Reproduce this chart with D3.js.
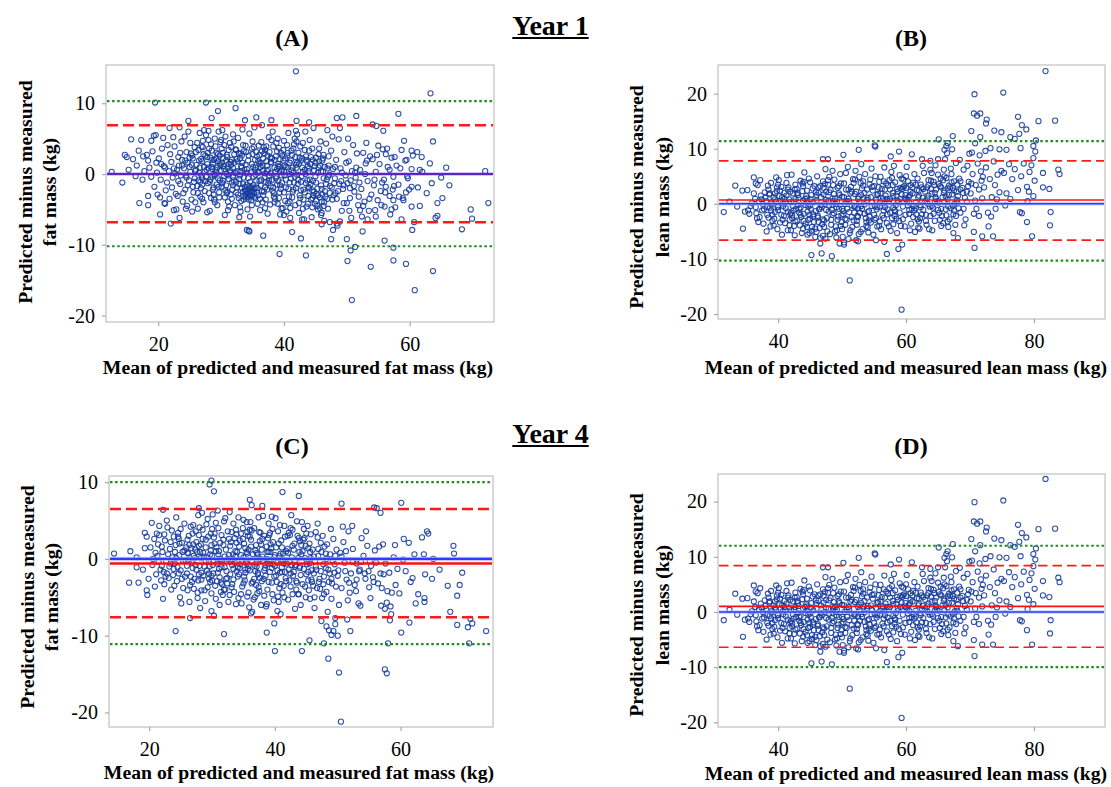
<!DOCTYPE html>
<html>
<head>
<meta charset="utf-8">
<script src="https://cdn.jsdelivr.net/npm/d3@7"></script>
<style>
body { margin: 0; background: #fff; }
svg text { font-family: "Liberation Serif", "Times New Roman", serif; fill: #000; }
</style>
</head>
<body>
<svg id="chart" width="1111" height="787"></svg>
<script>
// ---- tick labels ----
var fatTicksX = [20, 40, 60];
var fatTicksY = [10, 0, -10, -20];
var leanTicksX = [40, 60, 80];
var leanTicksY = [20, 10, 0, -10, -20];

// ---- agreement lines: [lower outer, lower LoA, bias, upper LoA, upper outer] ----
var limitsA = [-10.2, -6.8, 0.0, 6.9, 10.3];
var limitsB = [-10.3, -6.6, 0.7, 7.8, 11.4];
var limitsC = [-11.1, -7.6, -0.6, 6.5, 10.0];
var limitsD = [-10.0, -6.4, 1.0, 8.4, 12.0];

// ---- fat mass, year 1 (x = mean, y = difference) ----
var fatY1 = [
[41.9,14.5],[63.3,11.4],[19.5,10.1],[27.6,10.1],[29.5,8.9],[32.3,9.3],[24.8,7.5],[28.5,7.9],[33.8,7.6],[35.6,8.0],[42.0,7.5],[38.0,7.6],[44.0,7.3],[48.4,7.9],[49.3,8.0],[51.5,8.2],[54.1,7.0],[54.7,6.8],[58.2,8.5],[55.8,6.1],[21.8,6.5],
[12.6,0.3],[14.3,-1.2],[14.7,2.7],[15.0,2.4],[15.7,4.9],[15.3,0.6],[16.0,2.1],[16.4,-0.3],[16.9,3.3],[17.3,4.8],[17.0,-4.1],[17.6,2.5],[17.8,0.4],[18.4,-4.4],[18.4,-3.1],[18.9,4.7],[19.6,5.5],[17.5,-0.8],[16.6,1.2],[20.3,-5.7],[21.1,-4.2],[22.0,-7.0],[22.5,-5.1],[23.4,-6.2],[24.4,-4.9],
[65.8,0.9],[66.3,-1.6],[65.2,-3.4],[64.4,-4.1],[64.4,-5.9],[64.1,-6.2],[68.3,-7.8],[69.7,-5.0],[69.9,-6.3],[72.0,0.4],[72.5,-4.1],[63.5,-1.3],[63.2,1.5],[65.0,-0.5],[63.7,4.6],[60.5,2.6],[60.3,3.3],[61.2,3.1],[61.9,2.4],[59.1,4.7],[59.5,2.0],[60.3,0.7],[61.6,0.6],[62.0,0.3],[59.7,-0.6],[60.3,-1.8],[61.3,-1.9],[59.4,-2.6],[58.3,-3.2],[59.0,-3.7],[60.3,-4.6],[61.6,-4.5],[62.7,-2.7],[60.4,-7.9],[60.7,-6.8],[58.7,-6.4],[57.4,-3.7],[57.1,-5.0],[57.5,-1.7],[56.0,-4.6],[56.1,-2.6],[56.8,0.6],[57.6,2.4],[56.2,2.8],
[50.0,-9.2],[50.1,-12.3],[50.6,-10.8],[51.3,-10.3],[50.8,-17.8],[53.8,-13.1],[56.0,-9.4],[57.4,-12.2],[59.4,-12.7],[60.8,-16.4],[63.7,-13.7],[57.4,-10.4],[39.3,-11.3],[43.5,-11.5],[42.7,-9.1],[41.3,-8.2],[36.7,-8.7],[34.4,-8.0],[34.5,-8.1],[39.6,-4.9],[40.0,-5.8],[42.9,-6.4],[46.0,-5.5],[46.0,-7.1],[47.5,-9.2],[47.8,-7.9],[48.4,-7.0],[48.9,-6.7],[50.4,-5.2],[52.1,-5.1],[52.5,-8.1],[53.3,-6.4],[54.6,-6.0],
[18.2,2.7],[18.6,0.9],[19.1,3.2],[19.4,-1.8],[18.9,-0.4],[19.7,1.6],[19.9,-2.9],[18.4,1.9],[19.3,5.4],[19.8,0.2],
[20.1,2.2],[20.4,-0.8],[20.6,3.6],[20.9,1.1],[21.2,-2.3],[21.5,4.1],[21.0,-4.1],[20.3,-3.3],[21.7,0.4],[21.9,2.8],[20.8,5.1],[21.4,-1.2],[21.8,-3.5],[20.5,1.4],[21.1,0.9],
[22.1,1.7],[22.3,-0.5],[22.6,3.9],[22.8,-2.8],[23.0,0.6],[23.2,2.4],[23.5,-1.4],[23.7,4.6],[23.9,-3.9],[22.4,5.2],[22.9,-5.0],[23.3,1.2],[23.6,-0.2],[22.2,-1.9],[23.8,2.0],[23.1,-3.1],[22.7,0.1],[23.4,6.6],
[24.1,0.8],[24.3,-2.2],[24.5,3.1],[24.7,1.6],[24.9,-0.9],[25.1,4.4],[25.3,-3.6],[25.5,2.2],[25.7,-1.1],[25.9,0.4],[24.2,5.3],[24.6,-4.5],[25.0,1.0],[25.4,-5.3],[25.8,3.8],[24.4,-0.2],[25.2,2.9],[25.6,-2.6],[24.8,6.0],[25.9,-4.0],
[26.1,1.3],[26.2,-1.7],[26.4,3.4],[26.5,0.2],[26.7,-3.2],[26.8,2.1],[27.0,-0.6],[27.1,4.7],[27.3,1.0],[27.4,-2.4],[27.6,5.5],[27.7,0.6],[27.9,-1.3],[26.3,-4.9],[26.9,3.9],[27.2,-4.0],[27.5,2.6],[27.8,-5.4],[26.6,5.8],[27.0,1.8],[26.4,-0.9],[27.9,3.0],[27.3,6.2],[26.8,-2.0],
[28.0,0.9],[28.1,-2.7],[28.3,2.3],[28.4,4.2],[28.6,-0.4],[28.7,1.5],[28.9,-3.6],[29.0,5.0],[29.2,0.3],[29.3,-1.5],[29.5,2.8],[29.6,6.0],[29.8,-0.9],[29.9,1.2],[28.2,-5.2],[28.5,3.3],[28.8,-1.9],[29.1,3.9],[29.4,-4.4],[29.7,-2.6],[28.0,6.1],[28.6,0.7],[29.0,-0.2],[29.5,1.8],[29.9,4.5],[28.9,2.0],
[30.0,0.5],[30.1,-1.8],[30.3,3.0],[30.4,1.1],[30.6,-3.3],[30.7,5.3],[30.9,0.0],[31.0,2.4],[31.2,-0.7],[31.3,-4.6],[31.5,1.7],[31.6,3.8],[31.8,-2.2],[31.9,0.8],[30.2,6.2],[30.5,-0.3],[30.8,1.9],[31.1,-5.1],[31.4,4.4],[31.7,-1.2],[30.9,-2.7],[31.5,0.2],[30.3,2.2],[31.9,5.6],[30.6,-5.8],[31.2,1.4],
[32.0,-0.9],[32.1,1.6],[32.3,3.5],[32.4,-2.6],[32.6,0.4],[32.7,5.1],[32.9,-1.4],[33.0,2.2],[33.2,-3.8],[33.3,0.9],[33.5,4.1],[33.6,-0.5],[33.8,-2.3],[33.9,1.3],[32.2,-4.4],[32.8,2.9],[33.1,-5.3],[33.4,6.3],[33.7,-3.1],[32.5,-1.9],[33.9,-2.8],[32.3,0.1],[33.0,-0.2],[33.6,3.2],[32.9,-6.1],[33.3,-2.0],
[34.0,-2.4],[34.1,0.7],[34.3,-3.3],[34.4,2.6],[34.6,-1.1],[34.7,-2.9],[34.9,1.4],[35.0,4.6],[35.2,-0.4],[35.3,-2.1],[35.5,0.9],[35.6,3.1],[35.8,-4.2],[35.9,1.8],[34.2,-5.0],[34.5,5.7],[34.8,-3.7],[35.1,-1.6],[35.4,2.0],[35.7,-2.6],[34.3,-0.6],[35.0,-3.0],[35.6,-0.9],[34.9,3.6],[35.3,6.6],[34.1,-7.9],[34.6,-6.0],[35.8,0.3],
[36.0,0.2],[36.1,2.7],[36.3,-1.6],[36.4,4.5],[36.6,1.2],[36.7,-3.0],[36.9,-0.5],[37.0,3.4],[37.2,1.8],[37.3,-2.2],[37.5,0.6],[37.6,5.2],[37.8,-4.3],[37.9,2.3],[36.2,-5.1],[36.5,6.9],[36.8,3.8],[37.1,-1.1],[37.4,-5.6],[37.7,-0.3],[36.3,1.0],[37.0,0.1],[36.8,-2.5],[37.9,-1.7],
[38.0,1.5],[38.1,-0.8],[38.3,3.9],[38.4,-2.7],[38.6,0.3],[38.7,2.5],[38.9,-1.5],[39.0,5.0],[39.2,-3.4],[39.3,1.0],[39.5,3.0],[39.6,-0.2],[39.8,-4.8],[39.9,1.9],[38.2,6.0],[38.5,-4.0],[38.8,4.4],[39.1,-1.0],[39.4,-5.7],[39.7,2.6],[38.9,0.7],[39.5,-2.1],
[40.0,0.4],[40.2,2.2],[40.3,-1.9],[40.5,4.1],[40.6,0.9],[40.8,-3.2],[40.9,1.6],[41.1,-0.6],[41.2,3.3],[41.4,-2.5],[41.5,0.2],[41.7,5.0],[41.8,-4.4],[41.9,1.3],[40.4,-5.3],[40.7,5.8],[41.0,-6.2],[41.3,2.7],[41.6,-1.2],[40.1,-0.2],[41.9,6.1],[40.9,-3.9],
[42.0,0.9],[42.2,-1.4],[42.3,3.0],[42.5,-3.0],[42.7,1.9],[42.8,-0.3],[43.0,4.4],[43.1,-2.2],[43.3,0.6],[43.5,2.5],[43.6,-4.6],[43.8,1.1],[43.9,-1.8],[42.1,5.6],[42.4,-5.5],[42.9,2.2],[43.2,-6.4],[43.4,6.0],[43.7,-0.9],[42.6,3.9],
[44.0,-2.0],[44.2,1.4],[44.3,-3.6],[44.5,3.6],[44.6,-1.0],[44.8,0.5],[44.9,-4.2],[45.1,2.3],[45.2,-2.8],[45.4,-5.0],[45.5,0.9],[45.7,-3.3],[45.8,4.6],[45.9,-1.6],[44.1,4.8],[44.4,-6.1],[44.7,6.5],[45.0,-0.3],[45.3,-4.5],[45.6,1.8],[45.9,-5.8],[44.5,-2.3],
[46.0,-3.9],[46.2,0.3],[46.3,2.7],[46.5,-2.4],[46.7,4.3],[46.8,-0.8],[47.0,-4.9],[47.1,1.2],[47.3,-6.8],[47.5,3.3],[47.6,-1.9],[47.8,0.7],[47.9,-3.0],[46.4,-6.6],[46.9,6.2],[47.2,-0.1],[47.7,5.3],[46.1,1.9],
[48.1,-0.6],[48.3,2.0],[48.4,-3.5],[48.7,4.9],[48.8,-1.4],[49.0,0.8],[49.2,-5.2],[49.4,-2.1],[49.6,3.1],[49.8,-0.2],[48.5,-7.3],[48.9,6.5],[49.5,-4.1],[49.9,1.6],[48.2,-2.7],[49.1,-1.0],
[50.1,-1.3],[50.3,1.8],[50.5,-3.4],[50.8,0.4],[51.0,4.1],[51.2,-2.5],[51.4,-0.5],[51.6,2.9],[51.8,-4.4],[50.2,5.0],[50.7,-6.2],[51.1,-1.7],[51.5,0.9],[51.9,-3.2],[50.6,-0.9],
[52.1,0.6],[52.3,-2.1],[52.6,3.0],[52.8,-3.9],[53.0,1.5],[53.3,-1.0],[53.5,-5.2],[53.7,2.5],[53.9,-2.9],[52.4,-6.0],[53.1,4.4],[52.9,0.0],[53.6,-3.5],
[54.1,2.1],[54.3,-1.6],[54.6,0.3],[54.9,-3.7],[55.2,1.4],[55.4,-2.4],[55.7,3.5],[55.9,-0.8],[54.5,-5.1],[55.0,4.0],[55.5,-4.4],[54.8,2.7],
[56.2,-1.8],[56.5,1.0],[56.8,-3.1],[57.1,2.3],[57.4,-0.4],[57.7,-4.7],[56.4,3.6],[57.9,1.2],[56.9,-5.7],[57.3,-2.2],
[58.2,-1.5],[58.5,0.8],[58.9,-3.4],[59.3,1.9],[59.6,-0.3],[58.7,3.4],[59.9,-2.2]
];
// denser core of panel A
var fatY1Core = [
[24.3,1.9],[24.7,-1.6],[25.1,0.3],[25.4,2.6],[25.8,-0.6],[26.0,3.1],[26.3,-2.7],[26.6,0.9],[26.9,-0.2],[27.2,2.8],[27.5,-1.0],[27.8,1.4],[28.1,3.6],[28.3,-0.8],[28.6,2.0],[28.8,-2.9],[29.1,0.6],[29.3,3.0],[29.6,-1.8],[29.8,2.6],[30.1,1.6],[30.3,-0.9],[30.5,4.1],[30.8,-1.6],[31.0,0.9],[31.2,3.4],[31.5,-2.9],[31.7,2.0],[31.9,-0.4],[32.1,2.8],[32.4,-1.1],[32.6,1.8],[32.8,-3.4],[33.1,0.4],[33.3,2.6],[33.5,-1.4],[33.7,0.6],[33.9,4.0],[34.1,-1.5],[34.2,-2.8],[34.4,-3.6],[34.6,-2.0],[34.8,0.2],[35.0,-2.5],[35.1,1.0],[35.3,-3.2],[35.5,-1.9],[35.7,2.5],[35.9,-3.0],[36.1,-1.0],[36.3,1.6],[36.5,-2.4],[36.7,0.5],[36.9,2.9],[37.1,-3.6],[37.3,1.2],[37.5,-1.3],[37.7,3.1],[37.9,0.1],[38.1,2.2],[38.3,-1.9],[38.5,0.9],[38.7,-0.6],[38.9,3.2],[39.1,1.4],[39.3,-2.6],[39.5,0.4],[39.7,-1.2],[39.9,3.4],[40.1,1.2],[40.3,-0.8],[40.5,2.6],[40.7,-2.1],[40.9,0.0],[41.1,1.9],[41.3,-3.3],[41.5,3.6],[41.7,-0.4],[41.9,-2.0],[42.1,1.6],[42.3,-0.8],[42.5,2.3],[42.7,-2.3],[42.9,0.9],[43.1,-3.6],[43.3,3.4],[43.5,-1.3],[43.7,1.7],[43.9,-3.1],[44.1,-0.8],[44.3,2.4],[44.5,-4.7],[44.7,-3.0],[44.9,1.1],[45.1,-3.8],[45.3,-2.1],[45.5,2.8],[45.7,-4.8],[45.9,0.4],[46.1,-2.9],[46.3,-4.5],[46.5,1.0],[46.7,-1.4],[46.9,-3.5],[47.1,2.5],[47.3,-2.7],[26.2,4.4],[27.0,-3.5],[28.0,4.8],[29.0,-4.0],[30.0,4.8],[31.1,-3.9],[32.0,4.6],[33.0,-4.7],[34.0,3.1],[35.2,3.8],[36.0,4.0],[37.0,-4.8],[38.0,4.8],[39.0,-4.2],[40.0,4.7],[41.0,-4.8],[42.0,4.6],[43.0,-4.9],[44.0,3.3],[28.4,-3.4],[30.7,-2.3],[32.7,-2.9],[34.9,-4.4],[36.6,-4.0],[38.6,-3.5],[40.6,-4.1],[42.4,-4.1],[27.6,-0.4],[29.4,0.9],[31.4,0.5],[33.4,1.6],[35.4,0.6],[37.4,2.6],[39.4,2.1],[41.4,0.9],[43.4,0.0],[45.4,0.2],
[22.5,0.8],[23.2,-1.0],[23.8,1.2],[24.5,-0.5],[25.0,2.3],[25.5,-1.8],[26.0,0.6],[26.5,1.9],[27.0,-1.5],[27.4,0.3],[27.8,2.4],[28.2,-1.1],[28.5,1.0],[28.9,0.0],[29.2,2.2],[29.5,-0.6],[29.8,1.4],[30.2,-1.3],[30.5,0.7],[30.9,2.7],[31.2,-0.2],[31.6,1.3],[31.9,-1.6],[32.2,0.3],[32.5,2.1],[32.9,-0.7],[33.2,1.1],[33.5,-2.5],[33.8,-1.8],[34.1,0.2],[34.4,-2.2],[34.6,-3.1],[34.9,-1.9],[35.2,-2.7],[35.5,-0.1],[35.8,-2.0],[36.1,1.4],[36.4,-0.8],[36.7,2.2],[37.0,-1.9],[37.3,0.4],[37.6,-0.9],[37.9,1.7],[38.2,-2.4],[38.5,2.0],[38.8,-0.3],[39.1,1.1],[39.4,-1.6],[39.7,0.6],[40.0,-2.6],[40.3,1.0],[40.6,3.0],[40.9,-1.2],[41.2,0.5],[41.5,-2.2],[41.8,2.4],[42.1,-0.1],[42.4,1.4],[42.7,-1.1],[43.0,0.3],[43.3,-2.6],[43.6,2.0],[43.9,0.4],[44.2,-1.5],[44.5,-3.4],[44.8,-2.5],[45.1,-1.2],[45.4,-3.0],[45.7,1.2],[46.0,-2.1],[46.3,-0.6],[46.6,-3.2],[46.9,0.8],[47.3,-1.7],[47.7,-3.6],[48.1,1.0],[48.6,-2.4],[49.2,0.2],[27.1,3.8],[28.7,-2.2],[30.1,3.6],[31.7,-3.5],[32.4,3.4],[33.1,2.9],[34.3,1.9],[35.0,2.8],[36.2,-3.5],[37.2,3.9],[38.4,-3.2],[39.2,3.7],[40.2,-3.8],[41.6,4.2],[42.6,-3.4],[43.8,-4.2],[44.6,2.0],[45.6,3.6],[46.4,-4.0],[29.7,-3.3],[31.0,-2.5],[33.6,-3.6],[36.5,3.2],[26.7,-1.1],[25.3,1.3],[24.0,-2.7],[23.5,3.0],[44.0,0.8],[45.0,1.6],[46.2,2.2],[47.0,-0.4],[48.0,-1.3],[49.5,-1.6],[50.5,-2.0],[51.3,0.2],[52.0,-1.2],[53.2,1.9],[54.4,-0.8],[55.6,-1.2],[50.0,-4.1],[52.6,-4.5],[34.7,-2.5],[35.4,-3.4],[33.9,-3.3],[34.5,-1.7]
];

// ---- fat mass, year 4 ----
var fatY4 = [
[29.9,10.2],[29.6,9.7],[30.3,8.8],[41.2,8.7],[43.8,8.2],[50.6,7.2],[60.1,7.3],[55.8,6.7],[56.2,6.6],[56.8,6.0],[36.0,7.7],[36.3,7.0],[38.0,6.9],[22.2,6.4],[27.9,6.6],
[14.4,0.7],[17.0,1.0],[18.0,0.2],[16.8,-3.1],[18.3,-3.1],[18.0,-1.1],[19.0,-1.4],[19.6,-4.1],[19.7,-4.7],[19.3,3.4],[19.6,2.9],[19.3,1.4],[20.4,4.7],[21.6,4.3],[19.9,-2.6],
[24.2,-9.4],[31.9,-9.8],[26.5,-7.7],[29.9,-6.8],[30.3,-7.4],[38.7,-9.6],[39.9,-8.4],[40.0,-12.0],[44.3,-12.0],[40.9,-7.2],[45.5,-10.6],[47.8,-11.0],[48.5,-13.0],[50.2,-14.8],[50.5,-21.2],[57.5,-14.4],[57.8,-14.9],[58.0,-11.0],[48.2,-8.8],[48.6,-9.3],[49.0,-9.9],[49.3,-9.4],[50.0,-10.0],[52.0,-9.4],[60.1,-9.6],[47.4,-8.1],[49.6,-8.5],[51.5,-7.9],
[69.0,-8.6],[70.7,-8.9],[71.4,-8.4],[71.1,-7.8],[70.9,-11.0],[73.6,-9.4],[67.9,-6.9],[69.0,-4.8],[69.4,-3.4],[69.8,-1.8],[68.4,1.7],[68.5,0.7],[67.5,-3.5],[66.2,-1.4],[65.2,0.0],[64.2,3.6],[64.4,3.3],[63.4,2.8],[63.7,0.6],[63.9,-2.0],[65.0,-2.6],[63.8,-5.1],[63.8,-5.6],[62.8,-4.6],[62.2,0.6],[61.9,-2.5],[61.4,-8.3],[60.5,2.6],[61.3,2.1],[60.8,-1.6],[61.6,-3.0],[62.4,-5.8],[60.4,-0.1],
[20.2,1.5],[20.5,-0.8],[20.8,2.6],[21.1,-2.0],[21.3,0.4],[21.6,3.1],[21.8,-1.4],[20.9,-3.6],[21.4,1.9],[20.6,0.0],[21.9,-2.8],[21.2,3.3],
[22.1,0.9],[22.3,-1.7],[22.5,2.4],[22.7,-0.3],[22.9,4.1],[23.1,-2.5],[23.3,1.3],[23.5,-4.0],[23.7,0.2],[23.9,2.9],[22.4,-3.3],[22.8,5.0],[23.2,-1.0],[23.6,3.7],[22.2,-5.2],[23.8,-2.1],
[24.0,-0.6],[24.2,1.8],[24.4,-2.9],[24.6,3.4],[24.8,0.5],[25.0,-1.5],[25.2,2.1],[25.4,-3.8],[25.6,4.6],[25.8,-0.2],[24.3,5.4],[24.9,-5.0],[25.3,0.9],[25.7,-2.3],[24.5,-1.1],[25.9,1.5],[25.1,-5.8],[24.7,2.6],
[26.0,-1.9],[26.2,0.7],[26.3,3.0],[26.5,-3.4],[26.7,1.4],[26.8,-0.5],[27.0,4.4],[27.2,-2.6],[27.3,0.1],[27.5,2.2],[27.7,-4.4],[27.8,5.7],[26.4,-5.6],[26.9,-1.2],[27.4,3.6],[27.9,-2.0],[26.1,2.5],[27.1,-3.9],[27.6,0.9],[26.6,4.2],[27.9,1.7],[26.3,-0.2],
[28.0,-0.9],[28.2,1.9],[28.3,-2.7],[28.5,3.8],[28.7,0.3],[28.8,-4.1],[29.0,2.5],[29.2,-1.5],[29.3,5.2],[29.5,-0.4],[29.7,-3.0],[29.8,1.1],[28.4,6.0],[28.9,-5.5],[29.4,2.9],[29.9,-2.2],[28.1,-6.4],[28.6,0.8],[29.1,4.5],[29.6,-1.0],[28.3,-1.8],[29.8,3.3],
[30.0,0.4],[30.2,-1.9],[30.3,2.8],[30.5,-3.5],[30.7,1.5],[30.8,-0.6],[31.0,4.0],[31.2,-2.4],[31.3,0.0],[31.5,3.1],[31.7,-4.7],[31.8,1.8],[30.1,5.8],[30.6,-5.2],[31.1,-1.3],[31.6,-0.2],[31.9,4.9],[30.4,2.0],[31.4,-3.1],[30.9,6.3],[31.2,-6.0],[30.0,-2.8],
[32.0,-1.1],[32.2,1.2],[32.4,-3.2],[32.5,3.6],[32.7,0.5],[32.9,-2.0],[33.0,2.2],[33.2,-0.8],[33.4,4.6],[33.5,-4.3],[33.7,1.0],[33.9,-1.6],[32.1,5.3],[32.6,-5.6],[33.1,-3.7],[33.6,2.7],[32.3,-0.3],[33.3,0.6],[33.8,-5.9],[32.8,6.1],[33.9,3.2],[32.4,-2.5],
[34.0,0.9],[34.1,-2.3],[34.3,1.6],[34.5,-0.7],[34.6,3.3],[34.8,-3.6],[35.0,0.2],[35.1,2.0],[35.3,-1.8],[35.5,4.8],[35.6,-4.9],[35.8,1.2],[34.2,5.4],[34.7,-5.8],[35.2,-2.8],[35.7,3.0],[34.4,-1.2],[35.4,-0.4],[35.9,-6.3],[34.9,2.6],[35.0,5.1],[35.6,0.7],
[36.0,-1.5],[36.2,2.5],[36.3,-3.2],[36.5,0.6],[36.7,4.0],[36.8,-0.9],[37.0,1.8],[37.2,-4.5],[37.3,-2.0],[37.5,3.5],[37.7,0.0],[37.8,-6.0],[36.1,4.8],[36.6,-5.3],[37.1,-1.0],[37.6,2.3],[36.4,-6.9],[37.4,5.4],[37.9,-2.9],[36.9,1.1],[36.2,-7.1],[37.0,-3.4],
[38.0,0.3],[38.2,-2.6],[38.3,3.0],[38.5,-0.8],[38.7,1.6],[38.8,-4.0],[39.0,4.6],[39.2,-1.7],[39.3,0.9],[39.5,-3.1],[39.7,2.2],[39.8,-5.4],[38.1,5.6],[38.6,-6.2],[39.1,-0.1],[39.6,3.9],[38.4,-1.2],[39.4,1.4],[39.9,-2.3],[38.9,2.7],[39.5,5.5],[38.7,-5.9],
[40.0,-0.9],[40.2,1.5],[40.3,-3.0],[40.5,3.6],[40.7,0.4],[40.8,-1.8],[41.0,2.4],[41.2,-4.4],[41.3,-0.2],[41.5,4.3],[41.7,-2.5],[41.8,1.0],[40.1,5.3],[40.6,-5.6],[41.1,-1.1],[41.6,2.9],[40.4,-6.8],[41.4,-3.5],[41.9,-0.6],[40.9,0.7],
[42.0,1.3],[42.2,-1.4],[42.4,3.1],[42.5,-3.6],[42.7,0.2],[42.9,-2.2],[43.1,2.0],[43.3,-0.8],[43.5,4.9],[43.7,-4.6],[43.9,0.9],[42.1,-5.3],[42.6,5.7],[43.2,-6.5],[43.8,2.7],[42.3,-0.4],[43.4,-2.9],[42.8,3.8],
[44.0,-1.0],[44.2,1.8],[44.4,-3.3],[44.6,3.9],[44.8,0.1],[45.0,-2.0],[45.2,4.3],[45.4,-4.1],[45.6,0.9],[45.8,-1.5],[44.1,-6.0],[44.5,2.5],[44.9,-5.0],[45.3,1.4],[45.7,3.2],[45.9,-3.0],[44.3,4.8],[45.5,-0.6],
[46.0,1.2],[46.2,-1.9],[46.5,3.5],[46.7,-3.8],[46.9,0.4],[47.1,-2.6],[47.3,2.1],[47.5,-5.1],[47.7,-0.7],[47.9,1.6],[46.3,-6.4],[46.8,4.6],[47.2,-3.9],[47.8,-4.6],[46.4,-0.3],
[48.1,-1.2],[48.3,1.9],[48.6,-3.0],[48.8,0.6],[49.0,-5.2],[49.3,2.6],[49.5,-1.8],[49.7,-3.6],[48.4,-6.9],[48.9,3.9],[49.2,-0.2],[49.8,1.2],[48.2,-4.3],[49.6,-7.7],
[50.1,-1.5],[50.4,0.8],[50.6,-3.8],[50.9,2.2],[51.1,-0.5],[51.4,-2.7],[51.7,3.6],[51.9,-4.4],[50.2,-6.0],[50.8,4.2],[51.3,1.0],[51.6,-5.4],
[52.1,-1.9],[52.4,1.3],[52.7,-3.4],[53.0,-0.6],[53.3,-5.8],[53.5,-1.4],[53.8,2.7],[52.9,-4.2],[53.6,-6.1],[52.3,4.3],[53.4,-1.6],
[54.1,0.4],[54.4,-2.6],[54.7,1.7],[55.0,-3.7],[55.3,-0.9],[55.6,-2.4],[55.9,1.1],[54.5,3.6],[55.2,-5.1],[54.9,-1.6],[55.7,-3.0],
[56.1,-0.5],[56.4,-3.2],[56.8,-1.9],[57.0,-3.8],[57.3,-2.0],[57.6,-0.6],[57.9,-4.2],[56.6,1.6],[57.5,-6.5],[57.8,-5.7],[56.9,-6.1],[57.2,1.9],
[58.2,-1.8],[58.4,-6.2],[58.6,-4.4],[58.9,0.2],[59.2,-3.4],[59.5,-1.3],[59.8,-4.5],[58.5,-7.2],[58.3,-8.0],[59.1,1.8]
];
// denser core of panel C
var fatY4Core = [
[21.5,-0.4],[22.0,1.6],[22.6,-2.3],[23.0,0.6],[23.4,2.2],[23.9,-1.3],[24.3,0.1],[24.8,2.0],[25.2,-2.6],[25.6,1.1],[26.0,-0.9],[26.4,1.8],[26.8,-3.0],[27.1,0.4],[27.5,-1.4],[27.9,3.1],[28.2,0.1],[28.6,-2.2],[29.0,1.5],[29.3,-3.7],[29.7,0.6],[30.1,-0.8],[30.4,3.3],[30.8,-2.9],[31.1,1.0],[31.5,-1.1],[31.8,2.5],[32.2,-2.6],[32.5,0.0],[32.9,1.7],[33.2,-3.3],[33.6,-0.5],[33.9,2.1],[34.3,-2.0],[34.6,0.5],[35.0,-3.2],[35.3,1.4],[35.7,-1.3],[36.0,2.9],[36.4,-0.4],[36.7,-2.6],[37.1,0.8],[37.4,-3.7],[37.8,1.9],[38.1,-0.3],[38.5,-2.2],[38.8,0.9],[39.2,3.4],[39.5,-1.2],[39.9,0.2],[40.2,-2.2],[40.6,2.0],[40.9,-3.3],[41.3,0.7],[41.6,-1.7],[42.0,3.0],[42.3,-2.8],[42.7,-0.8],[43.0,1.2],[43.4,-4.0],[43.7,0.1],[44.1,-2.1],[44.4,1.0],[44.8,-3.6],[45.1,-0.4],[45.5,2.0],[45.8,-2.7],[46.2,0.3],[46.6,-1.4],[47.0,-3.0],[47.4,0.9],[47.8,-2.3],[48.2,0.0],[48.7,-1.9],[49.1,-3.2],[49.6,0.4],[22.4,3.2],[24.0,-3.5],[26.1,-4.1],[28.0,4.1],[29.9,-4.5],[31.9,-4.0],[33.8,3.8],[35.8,-4.4],[37.7,3.4],[39.6,-4.6],[41.5,-5.0],[43.6,3.0],[45.6,-5.2],[25.0,3.9],[27.7,-5.1],[30.6,4.7],[32.8,-4.7],[34.9,4.0],[36.8,-5.0],[38.9,-0.6],[40.8,4.4],[42.8,-4.6],[44.7,2.7],[46.8,2.8],[27.3,1.2],[29.5,-1.9],[31.3,-0.3],[33.4,-1.3],[35.5,-0.6],[37.3,-1.8],[39.3,-0.2],[41.1,-1.7],[43.2,-1.0],[45.3,-1.7],[34.2,-5.1],[36.3,3.7],[38.3,-4.8],[40.4,-0.5],[42.5,4.0],
[23.4,-0.6],[24.1,0.9],[24.7,-1.9],[25.4,-0.2],[26.1,0.8],[26.6,-2.3],[27.0,1.9],[27.4,-0.8],[27.8,-2.8],[28.1,0.9],[28.5,2.6],[28.8,-1.0],[29.2,0.2],[29.5,-2.6],[29.9,1.8],[30.2,-0.3],[30.6,1.0],[30.9,-1.8],[31.3,2.1],[31.6,-3.3],[32.0,0.3],[32.3,-1.6],[32.7,2.6],[33.0,-0.4],[33.4,-2.7],[33.7,0.3],[34.1,-1.1],[34.4,2.4],[34.8,-0.3],[35.1,-2.3],[35.5,0.9],[35.8,-0.9],[36.2,1.6],[36.5,-3.0],[36.9,-1.6],[37.2,0.6],[37.6,-2.5],[37.9,1.2],[38.3,-1.5],[38.6,0.0],[39.0,-3.0],[39.3,1.9],[39.7,-0.7],[40.0,0.5],[40.4,-1.5],[40.7,-3.8],[41.1,1.5],[41.4,-0.6],[41.8,-2.9],[42.1,0.8],[42.5,-1.9],[42.8,1.7],[43.2,-0.2],[43.5,-3.1],[43.9,-1.2],[44.2,0.6],[44.6,-1.3],[44.9,1.7],[45.3,-2.8],[45.7,0.1],[46.1,-3.5],[46.5,-1.0],[46.9,1.3],[47.3,-1.6],[47.7,-3.3],[48.1,0.7],[48.5,-1.4],[49.0,-2.6],[49.5,-0.7],[50.0,-2.2],[50.6,0.3],[51.2,-1.6],[51.8,-3.1],[52.4,-0.4],[53.0,-2.7],[53.7,-0.4],[54.3,-1.9],[55.1,-0.3],[26.9,3.3],[28.3,-4.1],[30.0,3.9],[31.4,-4.3],[33.1,3.5],[34.6,-4.6],[36.0,3.8],[37.5,-4.2],[39.1,3.1],[40.5,-4.9],[42.2,3.4],[43.8,-4.6],[45.0,3.3],[46.3,-5.0],[47.6,3.0],[35.6,3.5],[32.1,-4.0],[38.0,2.6],[44.0,2.3],[29.0,-0.3],[31.0,0.6],[33.3,-0.1],[35.3,-1.4],[37.0,-0.6],[39.0,0.9],[41.0,-0.3],[43.0,-1.7],[45.1,-0.7],[24.6,2.9],[22.8,-1.9],[21.0,0.8],[22.0,-0.9]
];

// ---- lean mass (same cloud appears in panels B and D) ----
var leanPts = [
[81.8,24.1],[70.7,19.9],[75.2,20.2],[70.6,16.4],[71.1,16.0],[71.6,16.4],[72.6,15.3],[72.5,14.6],[70.2,13.2],[73.8,13.3],[74.9,13.0],[77.5,15.8],[78.1,14.3],[78.8,13.5],[80.7,15.0],[83.3,15.1],[77.7,12.7],[76.3,12.1],[77.0,11.8],[65.1,11.7],[67.3,12.3],[71.6,12.1],[73.2,10.1],[74.6,9.9],[75.7,9.8],[77.9,10.1],[79.9,10.5],[80.3,11.5],[80.2,9.5],[79.9,8.3],[83.8,6.2],[84.0,5.4],[81.4,5.6],[81.4,3.0],[82.4,2.7],[82.6,-1.5],[82.5,-3.9],[79.7,-5.9],[78.9,-3.3],[78.1,-1.7],[79.0,0.5],[79.2,2.2],[79.9,1.4],[80.1,4.2],[73.6,-5.9],[72.9,-4.1],[71.9,-5.9],[70.7,-8.0],[70.6,-5.1],[68.1,-6.2],[67.4,-5.3],
[51.2,-13.9],[59.3,-19.2],[45.2,-9.3],[46.8,-9.0],[48.4,-9.5],[57.0,-9.1],[58.8,-8.2],[59.4,-7.4],[50.3,-7.4],[49.6,-7.2],[46.6,-7.2],[47.4,-6.3],[52.5,-6.8],[55.3,-6.6],[56.6,-6.9],
[52.6,9.8],[55.1,10.6],[55.2,10.4],[50.2,8.9],[47.0,8.1],[47.8,8.1],[58.9,9.5],[60.9,9.0],[57.6,8.6],[62.5,8.1],[63.8,7.8],[65.0,8.1],[66.0,9.8],[66.3,10.5],[66.5,11.0],
[31.5,-1.5],[32.4,0.4],[33.3,3.3],[34.4,2.4],[35.2,2.5],[34.5,-4.5],[33.6,-0.5],[34.8,-1.4],[35.3,-1.2],[35.5,-1.8],[36.2,4.8],[36.5,3.7],[35.9,0.1],
[36.2,1.9],[36.5,-0.6],[36.8,3.4],[37.1,-2.4],[37.4,0.8],[37.7,-3.6],[37.9,2.1],[36.6,-1.7],[37.2,4.3],[37.6,0.0],[36.9,-3.3],[37.8,-1.0],
[38.1,0.5],[38.3,-2.0],[38.5,2.6],[38.7,-0.7],[38.9,3.8],[39.1,-3.1],[39.3,1.2],[39.5,-1.5],[39.7,4.8],[39.9,-4.6],[38.2,-5.0],[38.6,1.7],[39.0,-0.1],[39.4,-2.7],[39.8,2.3],[38.8,-4.1],[39.6,0.4],[38.4,3.3],
[40.0,-1.1],[40.2,1.4],[40.3,-3.4],[40.5,3.1],[40.7,0.1],[40.9,-2.2],[41.0,2.0],[41.2,-0.8],[41.4,5.2],[41.5,-4.8],[41.7,0.8],[41.9,-1.9],[40.1,4.3],[40.6,-5.6],[41.1,-3.5],[41.6,3.0],[40.4,0.6],[41.3,1.5],[41.8,-2.9],[40.8,-0.4],
[42.0,0.3],[42.2,-2.6],[42.3,1.9],[42.5,-4.0],[42.7,3.5],[42.8,-0.9],[43.0,-3.0],[43.2,1.1],[43.3,-1.6],[43.5,4.2],[43.7,-5.3],[43.9,0.6],[42.1,5.3],[42.6,-5.7],[42.9,2.7],[43.4,-3.9],[43.8,2.3],[42.4,-1.2],[43.1,-0.2],[43.6,-2.4],[42.7,0.9],[43.9,-4.5],
[44.0,-1.8],[44.2,0.9],[44.3,-3.6],[44.5,2.4],[44.7,-0.5],[44.8,4.6],[45.0,-2.7],[45.2,1.6],[45.3,-4.9],[45.5,0.3],[45.7,3.2],[45.9,-1.3],[44.1,5.7],[44.6,-5.6],[45.1,-0.9],[45.6,-3.3],[44.4,1.4],[45.4,2.8],[45.8,-6.0],[44.9,-2.0],[45.0,3.9],[44.5,-4.2],
[46.0,0.6],[46.2,-2.2],[46.3,3.0],[46.5,-4.4],[46.7,1.2],[46.8,-0.6],[47.0,4.1],[47.2,-3.0],[47.3,0.0],[47.5,2.2],[47.7,-5.0],[47.9,-1.4],[46.1,5.0],[46.6,-6.2],[47.1,1.7],[47.6,-2.6],[46.4,-1.0],[47.4,6.3],[47.8,3.5],[46.9,-3.7],[47.0,-5.8],[46.3,2.0],
[48.0,-0.3],[48.2,2.5],[48.3,-2.9],[48.5,1.0],[48.7,-1.7],[48.8,4.4],[49.0,-4.1],[49.2,0.4],[49.3,2.9],[49.5,-0.9],[49.7,5.4],[49.9,-3.3],[48.1,-5.5],[48.6,3.4],[49.1,-6.1],[49.6,1.6],[48.4,-1.1],[49.4,-2.3],[49.8,3.7],[48.9,0.9],[49.2,-4.8],[48.5,6.0],
[50.0,1.3],[50.2,-1.9],[50.3,3.7],[50.5,-3.8],[50.7,0.5],[50.8,-0.9],[51.0,2.6],[51.2,-5.3],[51.3,1.9],[51.5,-2.4],[51.7,4.5],[51.9,-0.4],[50.1,-6.0],[50.6,5.6],[51.1,-1.5],[51.6,-4.2],[50.4,0.0],[51.4,3.1],[51.8,-3.0],[50.9,6.7],[50.3,-7.0],[51.0,-6.4],
[52.0,-0.6],[52.2,2.2],[52.3,-3.1],[52.5,0.9],[52.7,4.9],[52.8,-1.6],[53.0,1.6],[53.2,-4.6],[53.3,3.3],[53.5,-0.1],[53.7,-2.6],[53.9,2.6],[52.1,6.0],[52.6,-5.5],[53.1,-0.9],[53.6,5.4],[52.4,-2.2],[53.4,1.0],[53.8,-4.0],[52.9,3.8],[53.0,7.2],[52.2,-6.6],
[54.0,1.1],[54.2,-1.3],[54.3,3.6],[54.5,-3.4],[54.7,0.3],[54.8,2.4],[55.0,-2.0],[55.2,5.0],[55.3,0.7],[55.5,-4.1],[55.7,3.0],[55.9,-0.5],[54.1,-5.2],[54.6,6.4],[55.1,-2.9],[55.6,1.8],[54.4,4.4],[55.4,-1.0],[55.8,4.0],[54.9,-5.6],
[56.0,0.2],[56.2,2.7],[56.3,-2.1],[56.5,4.1],[56.7,-0.6],[56.8,1.5],[57.0,-3.5],[57.2,3.3],[57.3,0.5],[57.5,-1.6],[57.7,5.8],[57.9,2.0],[56.1,-4.6],[56.6,6.6],[57.1,-1.0],[57.6,-4.9],[56.4,1.0],[57.4,4.3],[57.8,-2.6],[56.9,3.7],
[58.0,1.4],[58.2,-1.1],[58.3,3.9],[58.5,-2.7],[58.7,2.2],[58.8,0.3],[59.0,5.2],[59.2,-4.0],[59.3,1.7],[59.5,-0.5],[59.7,3.2],[59.9,-2.0],[58.1,6.9],[58.6,-5.3],[59.1,0.9],[59.6,4.4],[58.4,-0.2],[59.4,2.7],[59.8,1.0],[58.9,-3.1],
[60.0,2.9],[60.2,0.6],[60.3,4.1],[60.5,-1.8],[60.7,3.4],[60.8,-3.6],[61.0,1.9],[61.2,-0.4],[61.3,5.4],[61.5,0.2],[61.7,2.5],[61.9,-4.3],[60.1,6.7],[60.6,-4.8],[61.1,3.8],[61.6,-1.9],[60.4,1.2],[61.4,-5.1],[61.8,4.6],[60.9,-0.9],
[62.0,1.5],[62.2,-2.6],[62.3,3.5],[62.5,0.4],[62.7,-1.1],[62.8,5.6],[63.0,2.2],[63.2,-3.8],[63.3,1.0],[63.5,4.3],[63.7,-0.5],[63.9,2.8],[62.1,-4.5],[62.6,6.9],[63.1,-2.0],[63.6,-4.6],[62.4,3.0],[63.4,0.0],[63.8,6.2],
[64.0,1.8],[64.2,-0.7],[64.3,4.0],[64.5,-3.1],[64.7,2.6],[64.8,0.5],[65.0,5.3],[65.2,-1.6],[65.3,3.2],[65.5,-4.0],[65.7,1.2],[65.9,6.2],[64.1,-4.8],[64.6,7.0],[65.1,0.2],[65.6,-2.2],[64.4,3.4],[65.4,4.6],[65.8,-3.5],
[66.0,2.4],[66.2,-1.0],[66.3,4.7],[66.5,0.8],[66.7,3.3],[66.8,-2.8],[67.0,6.4],[67.2,1.7],[67.3,-0.3],[67.5,4.1],[67.7,-3.8],[67.9,2.2],[66.1,8.1],[66.6,-4.2],[67.1,5.4],[67.6,0.1],[66.4,9.2],[67.4,-1.9],[67.8,7.4],[66.9,3.0],[67.2,9.9],[66.5,-3.2],
[68.1,1.4],[68.3,4.6],[68.5,-1.6],[68.8,2.9],[69.0,6.2],[69.3,-2.8],[69.5,0.4],[69.8,4.0],[68.4,8.0],[69.1,-3.9],[69.6,6.9],[68.9,2.0],[68.2,-0.8],[69.9,9.1],
[70.1,1.9],[70.4,5.4],[70.6,-1.8],[70.9,3.4],[71.2,7.3],[71.4,-2.2],[71.7,5.9],[71.9,1.0],[70.3,9.3],[71.0,-0.9],[71.5,8.8],[70.8,11.0],[71.8,4.2],
[72.2,3.0],[72.5,6.6],[72.8,-1.6],[73.1,4.5],[73.4,1.2],[73.7,7.7],[74.0,-0.9],[74.3,5.3],[74.6,2.1],[74.9,6.0],[72.4,9.6],[73.3,-2.3],[74.2,0.8],[73.9,3.4],
[75.3,5.6],[75.7,1.9],[76.1,7.2],[76.6,4.5],[77.0,6.3],[77.5,2.5],[78.0,5.0],[78.4,7.3],[78.9,3.1],[79.3,5.8],[75.5,-0.3],[76.3,0.9],[77.8,-1.5],[79.6,7.0]
];
// denser core of the lean cloud
var leanCore = [
[38.3,-0.6],[38.7,1.9],[39.1,-2.0],[39.5,0.8],[39.9,-0.5],[40.3,2.4],[40.7,-2.9],[41.1,0.3],[41.5,-1.4],[41.9,2.2],[42.3,-0.4],[42.7,-3.2],[43.1,1.6],[43.5,-2.0],[43.9,3.2],[44.3,-0.2],[44.7,-2.9],[45.1,0.8],[45.5,-1.9],[45.9,2.1],[46.3,-3.3],[46.7,-0.2],[47.1,2.9],[47.5,-1.1],[47.9,0.6],[48.3,-3.8],[48.7,1.8],[49.1,-0.6],[49.5,3.2],[49.9,-2.1],[50.3,1.2],[50.7,-2.9],[51.1,0.5],[51.5,2.2],[51.9,-1.6],[52.3,-3.8],[52.7,0.3],[53.1,2.8],[53.5,-1.8],[53.9,0.7],[54.3,-2.3],[54.7,3.1],[55.1,-0.4],[55.5,1.6],[55.9,-3.2],[56.3,0.6],[56.7,2.6],[57.1,-1.9],[57.5,0.9],[57.9,3.4],[58.3,-1.4],[58.7,0.6],[59.1,2.9],[59.5,-2.8],[59.9,1.6],[60.3,-0.3],[60.7,2.2],[61.1,-2.4],[61.5,3.5],[61.9,1.2],[62.3,-0.6],[62.7,2.7],[63.1,-3.1],[63.5,1.5],[63.9,4.2],[64.3,-1.8],[64.7,0.9],[65.1,3.6],[65.5,-0.9],[65.9,2.0],[66.3,-2.1],[66.7,1.6],[67.1,3.9],[67.5,-1.2],[67.9,0.7],[40.0,3.5],[42.0,-4.8],[44.0,4.0],[46.0,-5.1],[48.0,4.9],[50.0,-4.6],[52.0,4.4],[54.0,-4.3],[56.0,4.9],[58.0,-3.7],[60.0,5.0],[62.0,-3.2],[64.0,5.6],[66.0,5.0],[68.0,3.5],[39.3,-3.9],[41.3,3.8],[43.3,-0.9],[45.3,-4.2],[47.3,3.6],[49.3,-2.9],[51.3,-4.8],[53.3,4.1],[55.3,-2.6],[57.3,-4.1],[59.3,4.6],[61.3,-1.2],[63.3,3.0],[65.3,-2.9],[67.3,2.9],[37.3,1.5],[36.7,-2.6],[38.9,-1.2],[44.5,0.2],[48.5,-0.2],[52.5,-0.8],[56.5,-1.2],[60.5,0.2],[64.5,0.3],[68.5,2.6],[69.2,1.1],[69.7,3.2],
[37.0,0.4],[37.5,-1.2],[38.0,1.1],[38.5,-2.5],[39.0,0.2],[39.5,1.9],[40.0,-0.6],[40.5,-2.0],[41.0,0.9],[41.5,2.6],[42.0,-1.6],[42.5,0.4],[43.0,2.0],[43.5,-0.7],[44.0,-3.1],[44.5,1.0],[45.0,-0.3],[45.5,-2.3],[46.0,1.6],[46.5,-0.9],[47.0,-2.8],[47.5,0.7],[48.0,2.1],[48.5,-2.0],[49.0,0.0],[49.5,1.9],[50.0,-0.9],[50.5,-2.7],[51.0,0.9],[51.5,-0.3],[52.0,1.8],[52.5,-2.4],[53.0,-0.4],[53.5,2.0],[54.0,-1.5],[54.5,1.2],[55.0,3.2],[55.5,-0.6],[56.0,1.9],[56.5,-2.6],[57.0,0.9],[57.5,2.6],[58.0,-0.7],[58.5,1.5],[59.0,-1.6],[59.5,3.0],[60.0,0.8],[60.5,-1.1],[61.0,3.0],[61.5,-0.8],[62.0,2.4],[62.5,-1.9],[63.0,0.5],[63.5,3.4],[64.0,-0.4],[64.5,2.0],[65.0,-1.1],[65.5,3.0],[66.0,0.3],[66.5,2.8],[67.0,-0.8],[67.5,2.4],[68.0,0.2],[68.5,4.1],[69.0,-0.9],[69.5,2.2],[39.8,3.0],[41.8,-3.9],[43.8,3.7],[45.8,-4.5],[47.8,4.3],[49.8,-4.0],[51.8,3.8],[53.8,-3.3],[55.8,-4.0],[57.8,4.7],[59.8,-4.1],[61.8,-2.8],[63.8,-2.2],[65.8,4.3],[67.8,-2.2],[40.6,1.2],[42.6,2.6],[44.6,-1.4],[46.6,3.2],[48.6,0.5],[50.6,2.6],[52.6,1.3],[54.6,-0.4],[56.6,0.1],[58.6,2.7],[60.6,1.6],[62.6,1.1],[64.6,1.2],[66.6,-0.5],[42.2,-2.1],[46.2,-2.5],[50.2,-1.3],[54.2,-3.0],[58.2,-2.2],[62.2,-0.2],[66.2,1.3],[70.2,3.7],[70.8,0.6],[71.4,2.6],[72.0,4.9],[44.9,-5.3],[48.9,-5.0],[52.9,-5.1],[47.2,-4.2],[36.4,0.9],[35.7,-0.4]
];

var FONT = '"Liberation Serif", "Times New Roman", serif';
var svg = d3.select("#chart");

var panels = [
  { name: "(A)", pts: fatY1.concat(fatY1Core), lim: limitsA, xDom: [11.7, 73.4], yDom: [-20.9, 15.4], xt: fatTicksX, yt: fatTicksY,
    box: [106, 65, 494, 322], title: [292, 46], xlab: "Mean of predicted and measured fat mass (kg)", xlabPos: [298, 374],
    ylab: ["Predicted minus measured", "fat mass (kg)"], ylabX: [25, 49], ylabY: 192, thick: true, merged: true },
  { name: "(B)", pts: leanPts.concat(leanCore), lim: limitsB, xDom: [30.6, 91.1], yDom: [-20.9, 25.2], xt: leanTicksX, yt: leanTicksY,
    box: [718, 65, 1105, 319], title: [911, 46], xlab: "Mean of predicted and measured lean mass (kg)", xlabPos: [906, 374],
    ylab: ["Predicted minus measured", "lean mass (kg)"], ylabX: [636, 662], ylabY: 197, thick: false, merged: false },
  { name: "(C)", pts: fatY4.concat(fatY4Core), lim: limitsC, xDom: [13.6, 74.7], yDom: [-21.9, 10.8], xt: fatTicksX, yt: fatTicksY,
    box: [109, 476, 493, 727], title: [292, 454], xlab: "Mean of predicted and measured fat mass (kg)", xlabPos: [299, 779],
    ylab: ["Predicted minus measured", "fat mass (kg)"], ylabX: [27, 51], ylabY: 597, thick: true, merged: false },
  { name: "(D)", pts: leanPts.concat(leanCore), lim: limitsD, xDom: [30.6, 91.1], yDom: [-20.85, 25.0], xt: leanTicksX, yt: leanTicksY,
    box: [718, 474, 1105, 727], title: [911, 454], xlab: "Mean of predicted and measured lean mass (kg)", xlabPos: [906, 780],
    ylab: ["Predicted minus measured", "lean mass (kg)"], ylabX: [636, 662], ylabY: 605, thick: false, merged: false }
];

function fmt(d) { return d < 0 ? "-" + Math.abs(d) : String(d); }

panels.forEach(function(p, i) {
  var x0 = p.box[0], y0 = p.box[1], x1 = p.box[2], y1 = p.box[3];
  var x = d3.scaleLinear().domain(p.xDom).range([x0, x1]);
  var y = d3.scaleLinear().domain(p.yDom).range([y1, y0]);
  var g = svg.append("g");

  g.append("clipPath").attr("id", "clip" + i)
    .append("rect").attr("x", x0).attr("y", y0).attr("width", x1 - x0).attr("height", y1 - y0);

  g.append("rect")
    .attr("x", x0).attr("y", y0).attr("width", x1 - x0).attr("height", y1 - y0)
    .attr("fill", "#fff").attr("stroke", "#cdcdcd").attr("stroke-width", 1.5);

  // points
  g.append("g").attr("clip-path", "url(#clip" + i + ")")
    .selectAll("circle").data(p.pts).enter().append("circle")
    .attr("cx", function(d) { return x(d[0]); })
    .attr("cy", function(d) { return y(d[1]); })
    .attr("r", 2.6)
    .attr("fill", "none")
    .attr("stroke", "#163c9c")
    .attr("stroke-opacity", 0.9)
    .attr("stroke-width", 1.05);

  var lines = g.append("g");
  function hline(v, color, w, dash, op) {
    lines.append("line")
      .attr("x1", x0 + 1).attr("x2", x1 - 1)
      .attr("y1", y(v)).attr("y2", y(v))
      .attr("stroke", color).attr("stroke-width", w)
      .attr("stroke-opacity", op || 1)
      .attr("stroke-dasharray", dash || null);
  }
  var lw = p.thick ? 2.5 : 1.7;
  // outer limits (green dotted)
  hline(p.lim[0], "#1b8f1b", 2.2, "2.5,2.6");
  hline(p.lim[4], "#1b8f1b", 2.2, "2.5,2.6");
  // limits of agreement (red dashed)
  hline(p.lim[1], "#ff1a1a", lw, p.thick ? "11,5" : "9.5,5");
  hline(p.lim[3], "#ff1a1a", lw, p.thick ? "11,5" : "9.5,5");
  // zero line and mean bias
  if (p.merged) {
    hline(p.lim[2], "#5a24c9", 2.6);
  } else {
    hline(0, "#aeb8ff", p.thick ? 4.5 : 3.5, null, 0.7);
    hline(0, "#2a3cff", p.thick ? 2.2 : 1.5);
    hline(p.lim[2], "#ff1010", p.thick ? 2.4 : 1.7);
  }

  // axes
  var ax = g.append("g").attr("transform", "translate(0," + y1 + ")")
    .call(d3.axisBottom(x).tickValues(p.xt).tickSize(4).tickPadding(11).tickFormat(fmt));
  var ay = g.append("g").attr("transform", "translate(" + x0 + ",0)")
    .call(d3.axisLeft(y).tickValues(p.yt).tickSize(4).tickPadding(7).tickFormat(fmt));
  [ax, ay].forEach(function(a) {
    a.select(".domain").remove();
    a.attr("font-family", FONT).attr("font-size", 20);
    a.selectAll(".tick line").attr("stroke", "#a8a8a8").attr("stroke-width", 1.2);
    a.selectAll(".tick text").attr("fill", "#000").style("font-family", FONT);
  });

  // texts
  svg.append("text").attr("x", p.title[0]).attr("y", p.title[1])
    .attr("text-anchor", "middle").attr("font-weight", "bold").attr("font-size", 24).text(p.name);
  svg.append("text").attr("x", p.xlabPos[0]).attr("y", p.xlabPos[1])
    .attr("text-anchor", "middle").attr("font-weight", "bold").attr("font-size", 19.7).text(p.xlab);
  p.ylab.forEach(function(t, k) {
    svg.append("text")
      .attr("transform", "translate(" + p.ylabX[k] + "," + p.ylabY + ") rotate(-90)")
      .attr("text-anchor", "middle").attr("dy", "0.35em")
      .attr("font-weight", "bold").attr("font-size", 19.7).text(t);
  });
});

// year headings with underline
[["Year 1", 35], ["Year 4", 443]].forEach(function(h) {
  var t = svg.append("text").attr("x", 550.5).attr("y", h[1])
    .attr("text-anchor", "middle").attr("font-weight", "bold").attr("font-size", 28).text(h[0]);
  var w = t.node().getComputedTextLength();
  svg.append("line")
    .attr("x1", 550.5 - w / 2).attr("x2", 550.5 + w / 2)
    .attr("y1", h[1] + 3).attr("y2", h[1] + 3)
    .attr("stroke", "#000").attr("stroke-width", 2);
});
</script>
</body>
</html>
